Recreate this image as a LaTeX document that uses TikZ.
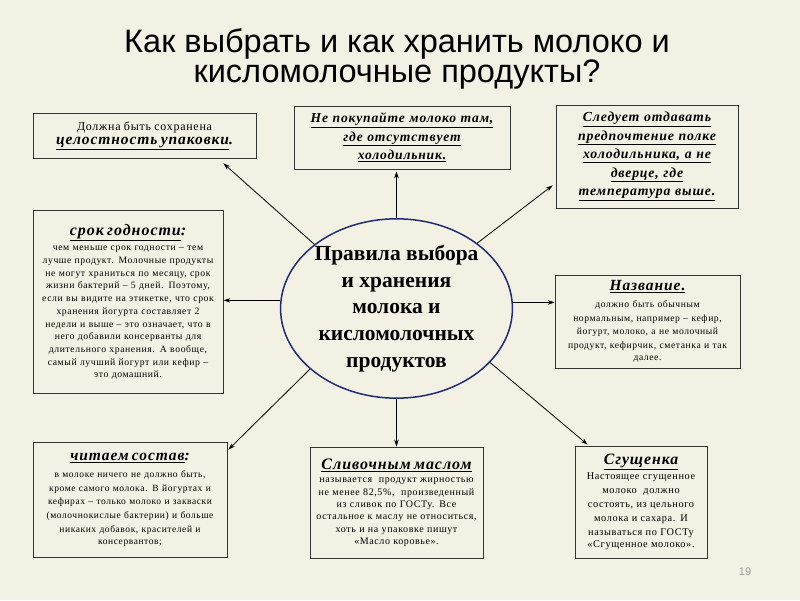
\documentclass[tikz,border=0pt]{standalone}
\usepackage{fontspec}
\setmainfont{Liberation Serif}
\setsansfont{Liberation Sans}
\newfontfamily\spreadfont[LetterSpace=6]{Liberation Serif}
\usetikzlibrary{arrows.meta,shapes.geometric,calc}
\definecolor{paper}{HTML}{F3F1E3}
\definecolor{rim}{HTML}{1F2B73}
\newcommand{\bodytext}{\spreadfont\fontsize{10}{12.7}\selectfont}
\newcommand{\headtext}[1]{\spreadfont\bfseries\itshape\fontsize{#1}{#1}\selectfont}
\tikzset{infobox/.style 2 args={draw=black!80,line width=0.9pt,fill=paper,align=center,
    inner sep=0pt,text width=#1,minimum width=#1,minimum height=#2},
  arr/.style={-{Stealth[length=2.4mm,width=1.6mm]},line width=0.8pt}}
\begin{document}
\begin{tikzpicture}[x=1pt,y=1pt]
\fill[paper] (0,0) rectangle (800,600);
\useasboundingbox (0,0) rectangle (800,600);
\node[font=\sffamily\fontsize{32.5}{29}\selectfont,align=center] (caption) at (397,541)
  {Как выбрать и как хранить молоко и\\кисломолочные продукты?};
% central ellipse
\node[ellipse,draw=rim,line width=1.5pt,minimum width=227,minimum height=177,inner sep=0pt,
  align=center,font=\bfseries\fontsize{21.5}{26.7}\selectfont] (rules) at (396.5,291.5)
  {Правила выбора\\и хранения\\молока и\\кисломолочных\\продуктов};
% top row
\node[infobox={223}{45}] (integrity) at (144.5,464.5)
  {{\spreadfont\fontsize{12}{14}\selectfont Должна быть сохранена}\par\vspace{2pt}
   {\headtext{15.5}\underline{целостность упаковки}.}};
\node[infobox={216}{63},font=\headtext{13.6}\fontsize{13.6}{18.5}\selectfont] (fridge) at (402,462.5)
  {\underline{Не покупайте молоко там,}\\\underline{где отсутствует}\\\underline{холодильник.}};
\node[infobox={182}{103},font=\headtext{13.8}\fontsize{13.8}{18.5}\selectfont] (shelf) at (647,443.5)
  {\underline{Следует отдавать}\\\underline{предпочтение полке}\\\underline{холодильника, а не}\\
   \underline{дверце, где}\\\underline{температура выше.}};
% middle row
\node[infobox={190}{183}] (shelflife) at (128,298.5)
  {{\headtext{16}\underline{срок годности}:}\par\vspace{3pt}
   \bodytext\fontsize{9.7}{12.7}\selectfont чем меньше срок годности – тем\\лучше продукт. Молочные продукты\\
   не могут храниться по месяцу, срок\\жизни бактерий – 5 дней. Поэтому,\\
   если вы видите на этикетке, что срок\\хранения йогурта составляет 2\\
   недели и выше – это означает, что в\\него добавили консерванты для\\
   длительного хранения. А вообще,\\самый лучший йогурт или кефир –\\это домашний.};
\node[infobox={185}{93}] (naming) at (647.5,278.5)
  {{\headtext{15.5}\underline{Название.}}\par\vspace{3pt}
   \bodytext\fontsize{9.6}{13.7}\selectfont должно быть обычным\\нормальным, например – кефир,\\йогурт, молоко, а не молочный\\
   продукт, кефирчик, сметанка и так\\далее.};
% bottom row
\node[infobox={194}{115}] (contents) at (130,100.5)
  {{\headtext{15.5}\underline{читаем состав}:}\par\vspace{4pt}
   \bodytext\fontsize{9.5}{13.6}\selectfont в молоке ничего не должно быть,\\кроме самого молока. В йогуртах и\\
   кефирах – только молоко и закваски\\(молочнокислые бактерии) и больше\\
   никаких добавок, красителей и\\консервантов;};
\node[infobox={173}{111}] (butter) at (396.5,97.5)
  {{\headtext{16}\underline{Сливочным маслом}}\par\vspace{1pt}
   \bodytext\fontsize{10}{12.4}\selectfont называется\ \ продукт жирностью\\не менее 82,5\%,\ \ произведенный\\из сливок по ГОСТу. Все\\
   остальное к маслу не относиться,\\хоть и на упаковке пишут\\«Масло коровье».};
\node[infobox={132}{112}] (condensed) at (641,98)
  {{\headtext{15.8}\underline{Сгущенка}}\par\vspace{1pt}
   \bodytext\fontsize{10.3}{14}\selectfont Настоящее сгущенное\\молоко\ \ должно\\состоять, из цельного\\
   молока и сахара. И\\называться по ГОСТу\\«Сгущенное молоко».};
\node[font=\sffamily\fontsize{11}{13}\selectfont,text=black!40] (pagenum) at (745,28) {19};
% connectors
\draw[arr] (rules.142) -- ([shift={(-33,-5)}]integrity.south east);
\draw[arr,shorten >=2pt] (rules.north) -- (rules.north |- fridge.south);
\draw[arr] (rules.39) -- ([shift={(-3,23)}]shelf.south west);
\draw[arr] (rules.176) -- (rules.176 -| shelflife.east);
\draw[arr] (rules.3) -- (rules.3 -| naming.west);
\draw[arr] (rules.215) -- ([shift={(1,-8)}]contents.north east);
\draw[arr] (rules.south) -- (rules.south |- butter.north);
\draw[arr] (rules.-30) -- ([shift={(13,1)}]condensed.north west);
\end{tikzpicture}
\end{document}
